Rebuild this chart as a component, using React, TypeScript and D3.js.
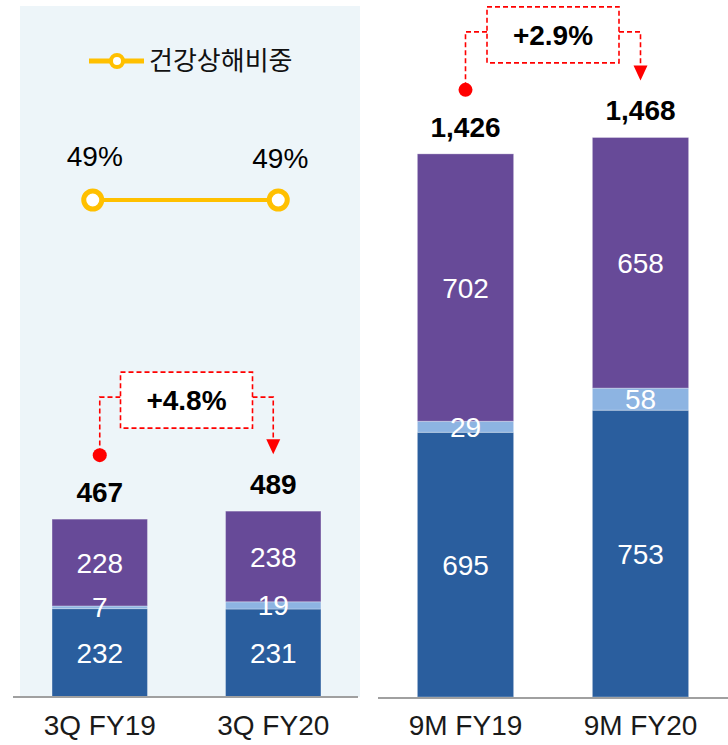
import React from "react";
import * as d3 from "d3";

const W = 728;
const H = 745;

const quarterCats = ["3Q FY19", "3Q FY20"];
const ytdCats = ["9M FY19", "9M FY20"];

// stacked series (bottom -> top)
const seriesNames = ["A", "B", "C"];
const quarterA = [232, 231];
const quarterB = [7, 19];
const quarterC = [228, 238];
const quarterTotals = [467, 489];

const ytdA = [695, 753];
const ytdB = [29, 58];
const ytdC = [702, 658];
const ytdTotals = [1426, 1468];

const healthShare = [49, 49];
const legendLabel = "건강상해비중";
const quarterGrowth = "+4.8%";
const ytdGrowth = "+2.9%";

const colors = ["#2A5E9E", "#8DB4E2", "#674A98"];
const yellow = "#FFC000";
const red = "#FF0000";
const font = "'Liberation Sans', Arial, sans-serif";

const baseY = 697;
const y = d3.scaleLinear().domain([0, 1830]).range([baseY, 0]);
const xLeft = d3.scaleBand<string>().domain(quarterCats).range([13, 360]).paddingInner(0.45).paddingOuter(0.225);
const xRight = d3.scaleBand<string>().domain(ytdCats).range([378, 728]).paddingInner(0.45).paddingOuter(0.225);
const yShare = d3.scaleLinear().domain([45, 55]).range([240, 140]);

type PanelProps = {
  cats: string[];
  x: d3.ScaleBand<string>;
  a: number[];
  b: number[];
  c: number[];
  totals: number[];
  growth: string;
};

function Panel({ cats, x, a, b, c, totals, growth }: PanelProps) {
  const rows = cats.map((cat, i) => ({ cat, A: a[i], B: b[i], C: c[i], total: totals[i] }));
  const stack = d3.stack<any>().keys(seriesNames)(rows);
  const bw = x.bandwidth();
  const cx = (cat: string) => (x(cat) as number) + bw / 2;
  const tops = rows.map((r) => y(r.A + r.B + r.C));
  const dotY = tops[0] - 64;
  const arrowTip = tops[1] - 57;
  const boxCY = dotY - 55;
  const x0 = cx(cats[0]);
  const x1 = cx(cats[1]);
  const boxW = 132;
  const boxH = 56;
  const boxX = (x0 + x1) / 2 - boxW / 2;
  const connY = boxCY - 3;
  const dash = "5 3";
  return (
    <g>
      {stack.map((layer, li) => (
        <g key={li}>
          {layer.map((d, i) => (
            <rect
              key={i}
              x={x(rows[i].cat)}
              y={y(d[1])}
              width={bw}
              height={y(d[0]) - y(d[1])}
              fill={colors[li]}
              stroke="rgba(255,255,255,0.3)"
              strokeWidth={1}
            />
          ))}
        </g>
      ))}
      {stack.map((layer, li) =>
        layer.map((d, i) => (
          <text
            key={`t${li}-${i}`}
            x={cx(rows[i].cat)}
            y={(y(d[0]) + y(d[1])) / 2}
            dy="0.36em"
            textAnchor="middle"
            fill="#fff"
            fontSize={28}
            fontFamily={font}
          >
            {d[1] - d[0]}
          </text>
        ))
      )}
      {rows.map((r, i) => (
        <text
          key={`tot${i}`}
          x={cx(r.cat)}
          y={tops[i] - 17}
          textAnchor="middle"
          fontSize={28}
          fontWeight="bold"
          fontFamily={font}
          fill="#000"
        >
          {d3.format(",")(r.total)}
        </text>
      ))}
      {rows.map((r, i) => (
        <text
          key={`lab${i}`}
          x={cx(r.cat)}
          y={735}
          textAnchor="middle"
          fontSize={28}
          fontFamily={font}
          fill="#1a1a1a"
        >
          {r.cat}
        </text>
      ))}
      {/* growth annotation */}
      <path
        d={`M${boxX},${connY}H${x0}V${dotY}`}
        fill="none"
        stroke={red}
        strokeWidth={1.6}
        strokeDasharray={dash}
      />
      <circle cx={x0} cy={dotY} r={7} fill={red} />
      <path
        d={`M${boxX + boxW},${connY}H${x1}V${arrowTip - 14}`}
        fill="none"
        stroke={red}
        strokeWidth={1.6}
        strokeDasharray={dash}
      />
      <path d={`M${x1 - 7},${arrowTip - 15}L${x1 + 7},${arrowTip - 15}L${x1},${arrowTip}Z`} fill={red} />
      <rect
        x={boxX}
        y={boxCY - boxH / 2}
        width={boxW}
        height={boxH}
        fill="#fff"
        stroke={red}
        strokeWidth={1.6}
        strokeDasharray={dash}
      />
      <text
        x={boxX + boxW / 2}
        y={boxCY}
        dy="0.36em"
        textAnchor="middle"
        fontSize={28}
        fontWeight="bold"
        fontFamily={font}
        fill="#000"
      >
        {growth}
      </text>
    </g>
  );
}

export default function App() {
  const px = (i: number) => (xLeft(quarterCats[i]) as number) + xLeft.bandwidth() / 2 - 7 + i * 12;
  const lineGen = d3
    .line<number>()
    .x((_, i) => px(i))
    .y((v) => yShare(v));
  const pts = healthShare.map((v, i) => ({ x: px(i), y: yShare(v), v }));
  return (
    <svg width={W} height={H} style={{ position: "absolute", left: 0, top: 0, background: "#fff" }}>
      <rect x={20} y={6} width={340} height={baseY - 6} fill="#EDF5F9" />
      {/* legend */}
      <line x1={89} x2={144} y1={61} y2={61} stroke={yellow} strokeWidth={5} />
      <circle cx={117} cy={61} r={6} fill="#fff" stroke={yellow} strokeWidth={4} />
      <text x={149} y={61} dy="0.36em" fontSize={26} fontFamily="'Noto Sans CJK KR', sans-serif" fill="#111">
        {legendLabel}
      </text>
      {/* share line */}
      <path d={lineGen(healthShare) || ""} fill="none" stroke={yellow} strokeWidth={4} />
      {pts.map((p, i) => (
        <g key={i}>
          <circle cx={p.x} cy={p.y} r={9} fill="#fff" stroke={yellow} strokeWidth={5} />
          <text
            x={p.x + 2}
            y={p.y - 34 + i * 2}
            textAnchor="middle"
            fontSize={28}
            fontFamily={font}
            fill="#000"
          >
            {p.v}%
          </text>
        </g>
      ))}
      <Panel cats={quarterCats} x={xLeft} a={quarterA} b={quarterB} c={quarterC} totals={quarterTotals} growth={quarterGrowth} />
      <Panel cats={ytdCats} x={xRight} a={ytdA} b={ytdB} c={ytdC} totals={ytdTotals} growth={ytdGrowth} />
      <line x1={13} x2={358} y1={baseY} y2={baseY} stroke="#A0A0A0" strokeWidth={2} />
      <line x1={378} x2={728} y1={baseY + 1} y2={baseY + 1} stroke="#A0A0A0" strokeWidth={2} />
    </svg>
  );
}
